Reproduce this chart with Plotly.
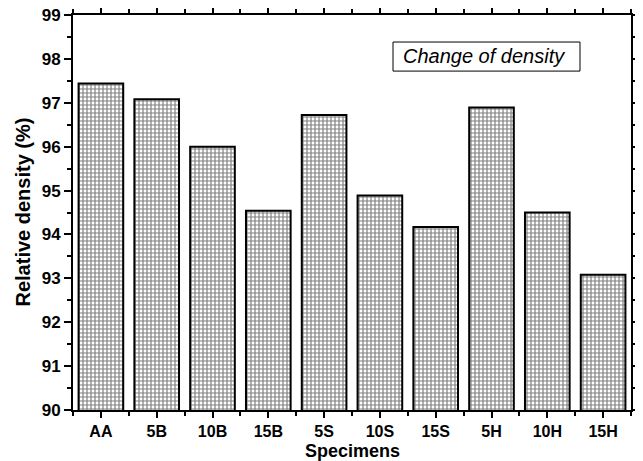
import plotly.graph_objects as go

specimens = ["AA", "5B", "10B", "15B", "5S", "10S", "15S", "5H", "10H", "15H"]
relative_density = [97.44, 97.08, 96.0, 94.54, 96.72, 94.89, 94.17, 96.89, 94.5, 93.08]
y_ticks = [90, 91, 92, 93, 94, 95, 96, 97, 98, 99]

positions = list(range(len(specimens)))

fig = go.Figure()
fig.add_trace(go.Bar(
    x=positions,
    y=relative_density,
    base=0,
    width=0.8,
    marker=dict(
        color="white",
        line=dict(color="black", width=2),
        pattern=dict(shape="+", size=4, solidity=0.5, fgcolor="black", bgcolor="white"),
    ),
    showlegend=False,
))

font_family = "Liberation Sans"

# page body has an 8px default margin, so the figure is sized to fit the window
fig.update_layout(
    width=635, height=453,
    margin=dict(l=65, r=12, t=7, b=51, autoexpand=False),
    paper_bgcolor="white", plot_bgcolor="white",
    font=dict(family=font_family, color="black"),
    xaxis=dict(
        range=[-0.5, 9.5], automargin=False,
        tickvals=positions, ticktext=["<b>%s</b>" % s for s in specimens],
        ticks="outside", ticklen=6, tickwidth=2, tickcolor="black",
        showline=True, linecolor="black", linewidth=2, mirror="allticks",
        showgrid=False, zeroline=False, ticklabeloverflow="allow",
        tickfont=dict(size=16, family=font_family),
        minor=dict(tick0=0.5, dtick=1, ticks="outside", ticklen=4, tickwidth=2, tickcolor="black", showgrid=False),
    ),
    yaxis=dict(
        range=[90, 99], automargin=False,
        tickvals=y_ticks, ticktext=["<b>%d</b>" % v for v in y_ticks],
        ticks="outside", ticklen=7, tickwidth=2, tickcolor="black",
        showline=True, linecolor="black", linewidth=2, mirror="allticks",
        showgrid=False, zeroline=False, ticklabeloverflow="allow",
        tickfont=dict(size=17, family=font_family),
        minor=dict(tick0=90.5, dtick=1, ticks="outside", ticklen=4, tickwidth=2, tickcolor="black", showgrid=False),
    ),
    shapes=[dict(
        type="rect", xref="paper", yref="paper",
        x0=0.5735, x1=0.9086, y0=0.858, y1=0.9316,
        line=dict(color="black", width=1), fillcolor="white", layer="above",
    )],
    annotations=[
        dict(
            text="<i>Change of density</i>",
            xref="paper", yref="paper",
            x=0.7366, y=0.895, xanchor="center", yanchor="middle",
            showarrow=False,
            font=dict(size=20, family=font_family),
        ),
        dict(
            text="<b>Specimens</b>",
            xref="paper", yref="paper",
            x=0.5, y=0, yshift=-29, xanchor="center", yanchor="top",
            showarrow=False,
            font=dict(size=18, family=font_family),
        ),
        dict(
            text="<b>Relative density (%)</b>",
            xref="paper", yref="paper",
            x=0, xshift=-51, y=0.5, xanchor="center", yanchor="middle",
            textangle=-90,
            showarrow=False,
            font=dict(size=20, family=font_family),
        ),
    ],
)

fig.write_html("out.html")
